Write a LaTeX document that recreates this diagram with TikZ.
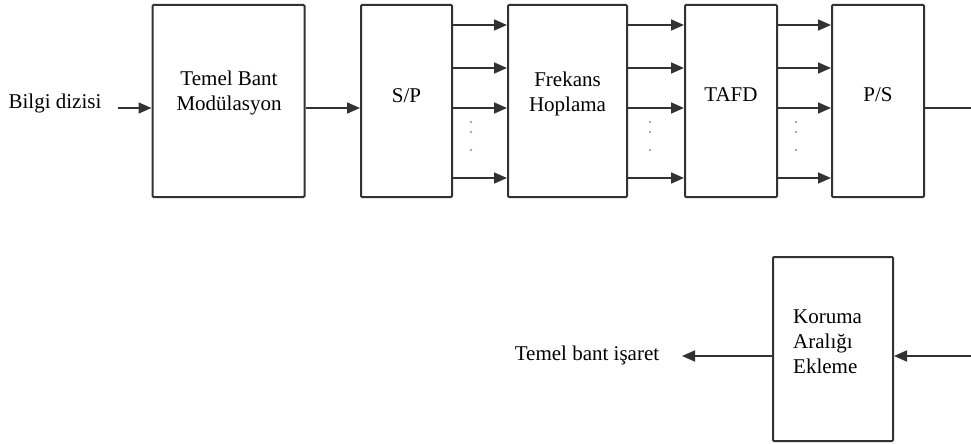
\documentclass[tikz,border=0pt]{standalone}
\usepackage{fontspec}
\setmainfont{Liberation Serif}
\usetikzlibrary{arrows.meta}
\definecolor{edge}{RGB}{50,50,50}
\begin{document}
\begin{tikzpicture}[x=1pt,y=1pt,
  blk/.style={draw=edge,line width=2pt,rounded corners=1pt,minimum width=#1,minimum height=192pt,inner sep=0pt},
  blk/.default=92pt,
  txt/.style={font=\fontsize{21}{25}\selectfont,align=center,inner sep=0pt,text=black},
  arr/.style={draw=edge,line width=1.7pt,-{Triangle[length=13pt,width=11pt]}},
  ln/.style={draw=edge,line width=1.7pt},
  dot/.style={circle,fill=gray!70,inner sep=0pt,minimum size=2.8pt}]
\useasboundingbox (0,0) rectangle (971,-444);
% boxes
\node[blk=152pt] (b1) at (228.5,-101) {};
\node[blk=91pt] (b2) at (406.5,-101) {};
\node[blk=119pt] (b3) at (567.5,-101) {};
\node[blk=92pt] (b4) at (731,-101) {};
\node[blk=92pt] (b5) at (878,-101) {};
\node[blk=120pt,minimum height=184pt] (b6) at (833,-349) {};
% texts
\node[txt] (t1) at (229,-93) {Temel Bant\\Modülasyon};
\node[txt] (t2) at (406.5,-96) {S/P};
\node[txt] (t3) at (567.5,-94) {Frekans\\Hoplama};
\node[txt] (t4) at (731,-95) {TAFD};
\node[txt] (t5) at (878,-95) {P/S};
\node[txt,align=left,anchor=west] (t6) at (793,-342) {Koruma\\Aralığı\\Ekleme};
\node[txt] (in) at (55,-103) {Bilgi dizisi};
\node[txt] (out) at (587,-355) {Temel bant işaret};
% connectors
\coordinate (cin) at (118,-108);
\coordinate (cr1) at (971,-108);
\coordinate (cr2) at (971,-356);
\coordinate (cout) at (682,-356);
\draw[arr] (cin) -- (b1.west |- cin);
\draw[arr] (b1.east |- cin) -- (b2.west |- cin);
\foreach \y in {25,68,108,178}{
  \draw[arr] (b2.east |- 0,-\y) -- (b3.west |- 0,-\y);
  \draw[arr] (b3.east |- 0,-\y) -- (b4.west |- 0,-\y);
  \draw[arr] (b4.east |- 0,-\y) -- (b5.west |- 0,-\y);
}
\draw[ln] (b5.east |- cr1) -- (cr1);
\draw[arr] (cr2) -- (b6.east |- cr2);
\draw[arr] (b6.west |- cout) -- (cout);
% dots
\foreach \x/\n in {471/a,650/b,796/c}{
  \node[dot] (d\n1) at (\x,-122) {};
  \node[dot] (d\n2) at (\x,-132) {};
  \node[dot] (d\n3) at (\x,-150) {};
}
\end{tikzpicture}
\end{document}
